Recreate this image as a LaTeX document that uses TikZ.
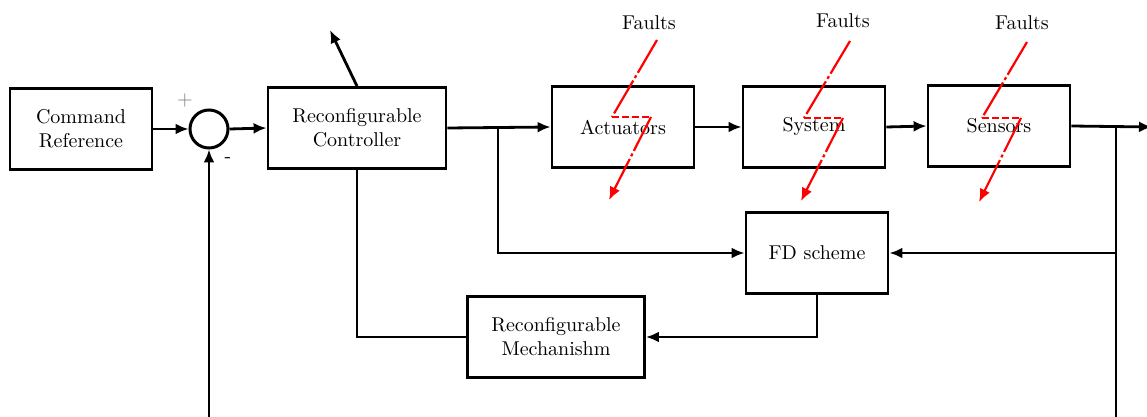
\documentclass[tikz,border=0pt]{standalone}
\usetikzlibrary{arrows.meta,calc}
\begin{document}
\begin{tikzpicture}[x=0.5pt,y=-0.5pt,
  blk/.style={draw,line width=1.4pt,rectangle,minimum width=71pt,minimum height=40.5pt,inner sep=0pt,align=center},
  conn/.style={line width=1.4pt},
  arr/.style={line width=1.4pt,-{Latex[length=6.5pt,width=5.5pt]}},
  fdash/.style={red,line width=1.1pt,dash pattern=on 19pt off 1.5pt on 1.5pt off 1.5pt},
  fhor/.style={red,line width=1.1pt,dash pattern=on 3.5pt off 1.5pt},
  ftxt/.style={inner sep=0pt}]
\useasboundingbox (0,0) rectangle (1147,417);
\clip (0,0) rectangle (1147,417);
\node[blk] (cmd) at (81,129) {Command\\Reference};
\node[draw,circle,line width=1.5pt,minimum size=19pt,inner sep=0pt] (sum) at (209,129) {};
\node[text=gray] (plus) at (185,101) {+};
\node (minus) at (228,160) {-};
\node[blk,minimum width=89pt] (ctrl) at (357,128) {Reconfigurable\\Controller};
\node[blk] (act) at (623,127) {Actuators};
\node[blk] (sys) at (814,127) {System};
\node[blk] (sen) at (999,126) {Sensors};
\node[blk] (fd) at (817,253) {FD scheme};
\node[blk,minimum width=88.5pt] (mech) at (556,337) {Reconfigurable\\Mechanishm};
% coordinates
\coordinate (out) at (330,30);
\coordinate (b1) at (498,127.5);
\coordinate (b2) at (1116,126.5);
\coordinate (rend) at (1152,127);
\coordinate (fbb) at (1116,440);
\coordinate (fbl) at (209,440);
% connectors
\draw[arr] (cmd.east) -- (sum.west);
\draw[arr] (sum.east) -- (ctrl.west);
\draw[arr] (ctrl.north) -- (out);
\draw[arr] (ctrl.east) -- (act.west);
\draw[arr] (b1) |- (fd.west);
\draw[arr] (act.east) -- (sys.west);
\draw[arr] (sys.east) -- (sen.west);
\draw[arr] (sen.east) -- (rend);
\draw[arr] (b2) |- (fd.east);
\draw[conn] (b2) -- (fbb) -- (fbl);
\draw[arr] (fbl) -- (sum.south);
\draw[arr] (fd.south) |- (mech.east);
\draw[conn] (mech.west) -| (ctrl.south);
% faults
\foreach \tx/\ty/\ax/\ay/\bx/\by/\cx/\dx/\dy in {649/23/657/40/612/117/651/609/200,843/21/850/41/804/118/843/801/201,1022/23/1027/42/982/118/1021/979/202}{
  \node[ftxt] at (\tx,\ty) {Faults};
  \draw[fdash] (\ax,\ay) -- (\bx,\by);
  \draw[fhor] (\bx,\by) -- (\cx,\by);
  \draw[fdash,-{Latex[length=6.5pt,width=5.5pt]}] (\cx,\by) -- (\dx,\dy);
}
\end{tikzpicture}
\end{document}
